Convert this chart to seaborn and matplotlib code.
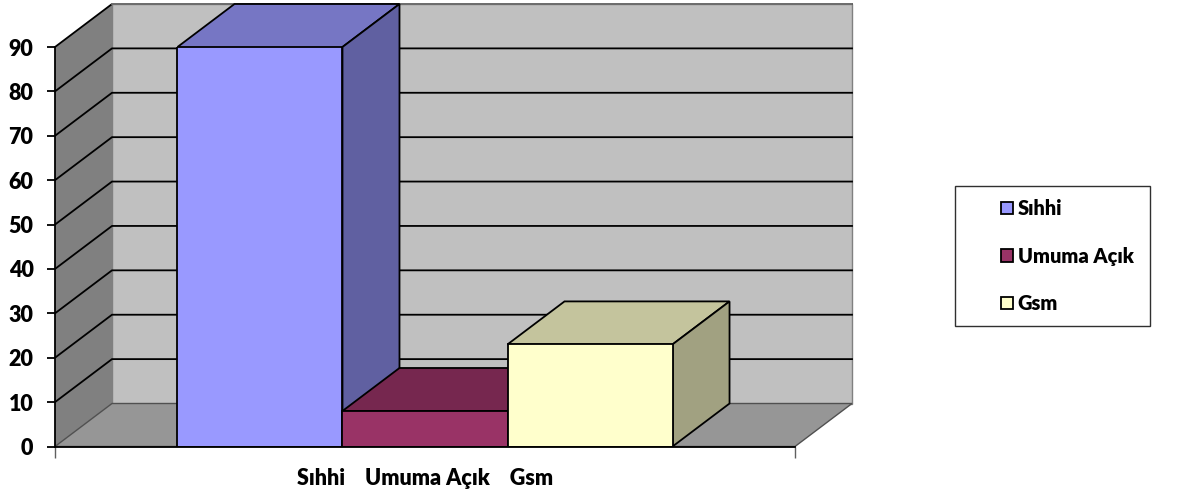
import matplotlib.pyplot as plt
import pandas as pd
import seaborn as sns
from matplotlib.colors import to_rgb
from matplotlib.patches import Polygon, Rectangle

category = ['Sıhhi    Umuma Açık    Gsm']
series_names = ['Sıhhi', 'Umuma Açık', 'Gsm']
series_values = [90, 8, 23]
y_ticks = [0, 10, 20, 30, 40, 50, 60, 70, 80, 90]
colors = ['#9999FF', '#993366', '#FFFFCC']

W, H = 1192, 495
# pixel box of the front plane and the fake 3d depth
LEFT, RIGHT, TOP, BOTTOM = 55, 795, 47, 446.5
DEPTH_X_PX, DEPTH_Y_PX = 57, 43


def shade(color, factor):
    return tuple(c * factor for c in to_rgb(color))


def draw_walls(ax, dx, dy):
    x0, x1 = ax.get_xlim()
    y0, y1 = ax.get_ylim()
    side = Polygon([(x0, y0), (x0 + dx, y0 + dy), (x0 + dx, y1 + dy), (x0, y1)],
                   fc='#808080', ec='none', clip_on=False, zorder=0.5)
    back = Polygon([(x0 + dx, y0 + dy), (x1 + dx, y0 + dy), (x1 + dx, y1 + dy), (x0 + dx, y1 + dy)],
                   fc='#C0C0C0', ec='#808080', lw=1, clip_on=False, zorder=0.5)
    floor = Polygon([(x0, y0), (x1, y0), (x1 + dx, y0 + dy), (x0 + dx, y0 + dy)],
                    fc='#969696', ec='#505050', lw=1, clip_on=False, zorder=0.6)
    ax.add_patch(side)
    ax.add_patch(back)
    ax.add_patch(floor)
    for v in ax.get_yticks():
        if v == y0:
            continue
        ax.plot([x0, x0 + dx, x1 + dx], [v, v + dy, v + dy], color='black', lw=1.3,
                clip_on=False, zorder=0.8, solid_joinstyle='miter')
    # the top line of the back wall stays thin and grey
    ax.plot([x0 + dx, x1 + dx], [y1 + dy, y1 + dy], color='#808080', lw=1.2, clip_on=False, zorder=0.85)


def draw_bar_faces(ax, dx, dy):
    z = 2
    for container, color in zip(ax.containers, colors):
        for bar in container:
            x, w, h = bar.get_x(), bar.get_width(), bar.get_height()
            top = Polygon([(x, h), (x + w, h), (x + w + dx, h + dy), (x + dx, h + dy)],
                          fc=shade(color, 0.77), ec='black', lw=1.3, clip_on=False, zorder=z)
            side = Polygon([(x + w, 0), (x + w + dx, dy), (x + w + dx, h + dy), (x + w, h)],
                           fc=shade(color, 0.63), ec='black', lw=1.3, clip_on=False, zorder=z)
            ax.add_patch(top)
            ax.add_patch(side)
            bar.set_zorder(z + 0.1)
            z += 1


def main():
    plt.rcParams['font.family'] = ['Lato', 'DejaVu Sans']
    plt.rcParams['font.weight'] = 'heavy'

    data = pd.DataFrame({'category': category * 3, 'series': series_names, 'value': series_values})

    fig = plt.figure(figsize=(W / 100, H / 100), dpi=100)
    ax = fig.add_axes([LEFT / W, 1 - BOTTOM / H, (RIGHT - LEFT) / W, (BOTTOM - TOP) / H])
    ax.patch.set_visible(False)

    sns.barplot(data=data, x='category', y='value', hue='series', hue_order=series_names,
                palette=colors, width=0.669, gap=0, saturation=1, edgecolor='black', linewidth=1.3,
                legend=False, ax=ax)

    ax.set_xlim(-0.5, 0.5)
    ax.set_ylim(0, 90)
    ax.set_yticks(y_ticks)
    ax.set_xlabel('')
    ax.set_ylabel('')
    ax.tick_params(axis='y', length=6, width=1.3, labelsize=15.5, pad=9.5)
    ax.tick_params(axis='x', length=0, labelsize=15.5, pad=15.5)
    ax.set_xticks([-0.5, 0.5], minor=True)
    ax.tick_params(axis='x', which='minor', length=8, width=1, color='#606060')
    for side in ['top', 'right']:
        ax.spines[side].set_visible(False)
    ax.spines['left'].set_linewidth(1.3)
    ax.spines['bottom'].set_linewidth(1.3)
    ax.spines['bottom'].set_zorder(6)

    dx = DEPTH_X_PX / (RIGHT - LEFT)
    dy = DEPTH_Y_PX * 90 / (BOTTOM - TOP)
    draw_walls(ax, dx, dy)
    draw_bar_faces(ax, dx, dy)

    # legend box is a bit off centre so it is drawn apart from the entries
    fig.add_artist(Rectangle((955 / W, 1 - 326 / H), 195 / W, 140 / H, transform=fig.transFigure,
                             fc='white', ec='#303030', lw=1))
    handles = [Rectangle((0, 0), 1, 1, fc=c, ec='black', lw=1.3) for c in colors]
    fig.legend(handles, series_names, loc='center left', bbox_to_anchor=(1001 / W, 1 - 256 / H),
               frameon=False, fontsize=14.4, handlelength=0.59, handleheight=0.59, handletextpad=0.25,
               labelspacing=1.42, borderpad=0, borderaxespad=0)

    fig.savefig('out.png', dpi=100)


if __name__ == '__main__':
    main()
